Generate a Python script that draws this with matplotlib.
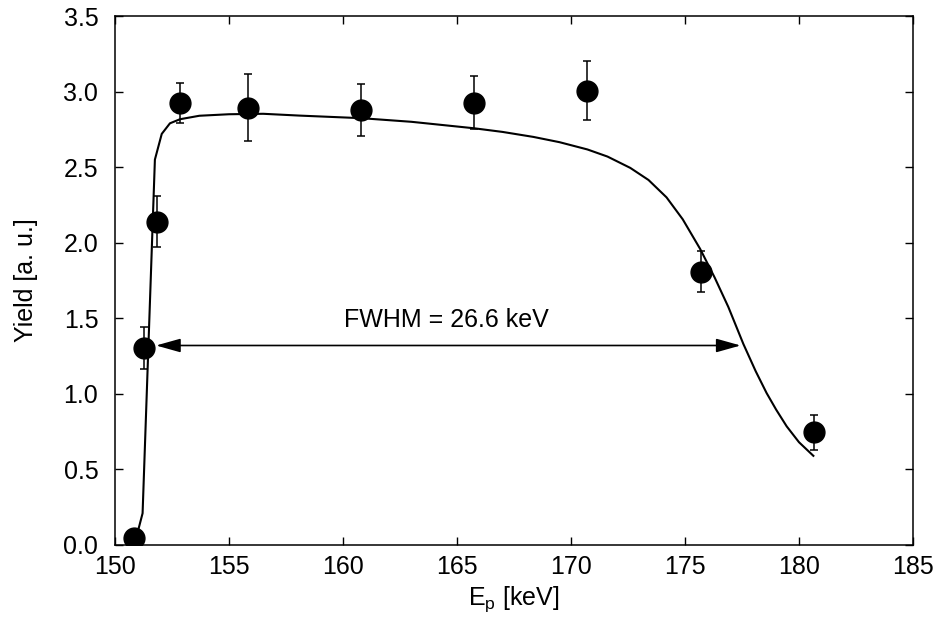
import matplotlib
matplotlib.use("Agg")
import matplotlib.pyplot as plt

plt.rcParams["font.family"] = ["Liberation Sans", "DejaVu Sans"]
plt.rcParams["mathtext.fontset"] = "custom"
plt.rcParams["mathtext.rm"] = "Liberation Sans"
plt.rcParams["mathtext.it"] = "Liberation Sans:italic"

# Measured yield points
energy = [150.85, 151.27, 151.85, 152.85, 155.85, 160.79, 165.76, 170.72, 175.69, 180.64]
yield_ = [0.045, 1.305, 2.14, 2.925, 2.893, 2.879, 2.927, 3.007, 1.809, 0.746]
yield_err = [0.02, 0.14, 0.17, 0.13, 0.22, 0.17, 0.177, 0.196, 0.135, 0.117]

# Fitted yield curve
fit_energy = [150.9, 151.21, 151.75, 152.05, 152.41, 152.85, 153.7, 155.0, 156.5,
              158.1, 160.8, 163.0, 165.76, 167.0, 168.35, 169.5, 170.72, 171.6,
              172.6, 173.4, 174.19, 174.9, 175.66, 176.3, 176.9, 177.56, 178.1,
              178.58, 179.0, 179.46, 180.0, 180.63]
fit_yield = [0.03, 0.21, 2.55, 2.72, 2.79, 2.817, 2.84, 2.85, 2.853, 2.841, 2.824,
             2.80, 2.757, 2.733, 2.700, 2.665, 2.617, 2.570, 2.495, 2.415, 2.300,
             2.155, 1.960, 1.770, 1.575, 1.33, 1.15, 1.005, 0.895, 0.785, 0.68, 0.59]

# FWHM marker
fwhm_left, fwhm_right, fwhm_level = 151.8, 177.44, 1.32
fwhm_label = "FWHM = 26.6 keV"

x_ticks = [150, 155, 160, 165, 170, 175, 180, 185]
y_ticks = [0.0, 0.5, 1.0, 1.5, 2.0, 2.5, 3.0, 3.5]

fig = plt.figure(figsize=(9.4, 6.28), dpi=100)
ax = fig.add_axes([115 / 940, 1 - 545 / 628, (913 - 115) / 940, (545 - 16) / 628])

ax.plot(fit_energy, fit_yield, color="black", lw=1.5, zorder=2)
ax.errorbar(energy, yield_, yerr=yield_err, fmt="o", color="black", ms=15,
            elinewidth=1.1, capsize=3.2, capthick=1.1, zorder=3)

ax.annotate("", xy=(fwhm_left, fwhm_level), xytext=(fwhm_right, fwhm_level),
            arrowprops=dict(arrowstyle="<|-|>,head_length=1.5,head_width=0.42",
                            color="black", lw=1.2, shrinkA=0, shrinkB=0))
ax.text(164.54, 1.445, fwhm_label, ha="center", va="baseline", fontsize=18)

ax.set_xlim(150, 185)
ax.set_ylim(0, 3.5)
ax.set_xticks(x_ticks)
ax.set_yticks(y_ticks)
ax.set_yticklabels([f"{v:.1f}" for v in y_ticks])
ax.tick_params(direction="in", length=6, width=1.0, top=True, right=True,
               labelsize=18)
ax.tick_params(axis="x", pad=7)
ax.tick_params(axis="y", pad=12)
for s in ax.spines.values():
    s.set_linewidth(1.1)

ax.set_xlabel(r"E$_\mathrm{p}$ [keV]", fontsize=18, labelpad=4)
ax.set_ylabel("Yield [a. u.]", fontsize=18, labelpad=18)

fig.savefig("out.png", dpi=100)
